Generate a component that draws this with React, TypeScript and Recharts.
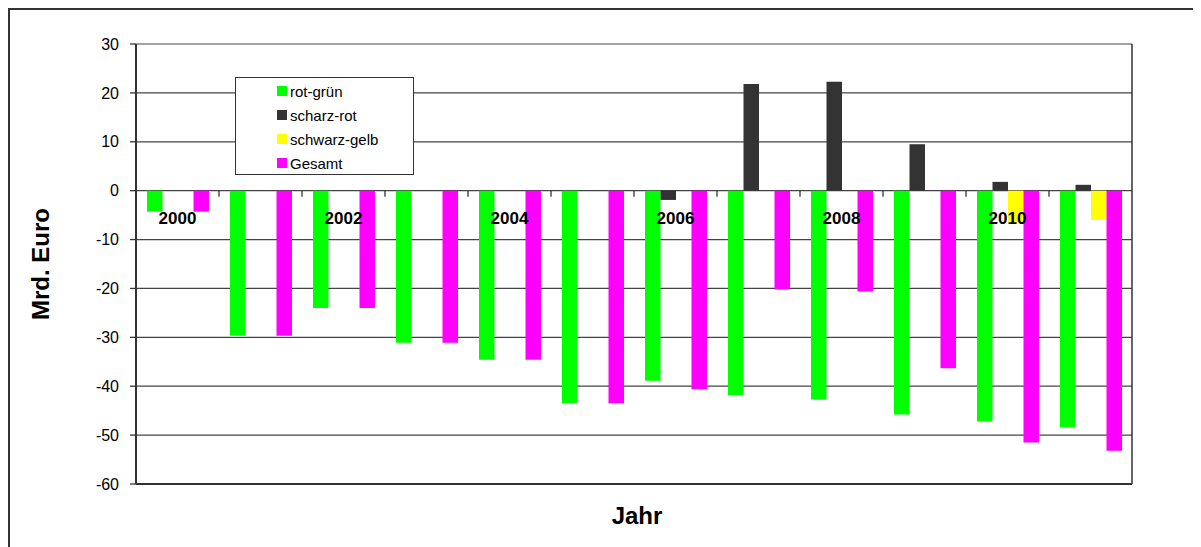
import React from 'react'
import { BarChart, Bar, XAxis, YAxis, CartesianGrid, Legend } from 'recharts'

// values (Mrd. Euro)
const years = ['2000', '2001', '2002', '2003', '2004', '2005', '2006', '2007', '2008', '2009', '2010', '2011']
const rotGruen = [-4.3, -29.7, -24.0, -31.1, -34.6, -43.5, -38.9, -41.8, -42.7, -45.8, -47.2, -48.4]
const scharzRot = [null, null, null, null, null, null, -1.9, 21.8, 22.3, 9.5, 1.8, 1.2]
const schwarzGelb = [null, null, null, null, null, null, null, null, null, null, -6.5, -6.0]
const gesamt = [-4.3, -29.7, -24.0, -31.1, -34.6, -43.5, -40.6, -20.2, -20.6, -36.3, -51.5, -53.2]
const yTicks = [-60, -50, -40, -30, -20, -10, 0, 10, 20, 30]

const series = [
  { key: 'rotGruen', name: 'rot-grün', color: '#00ff00' },
  { key: 'scharzRot', name: 'scharz-rot', color: '#333333' },
  { key: 'schwarzGelb', name: 'schwarz-gelb', color: '#ffff00' },
  { key: 'gesamt', name: 'Gesamt', color: '#ff00ff' },
]

const chartData = years.map((year, i) => ({
  year,
  rotGruen: rotGruen[i],
  scharzRot: scharzRot[i],
  schwarzGelb: schwarzGelb[i],
  gesamt: gesamt[i],
}))

const FONT = '"Liberation Sans", Arial, sans-serif'
const CHART_W = 1193
const CHART_H = 539
const MARGIN = { top: 36, right: 0, bottom: 0, left: 0 }
const Y_AXIS_W = 128
const RIGHT_AXIS_W = 69
const X_AXIS_H = 63
const PLOT_W = CHART_W - MARGIN.left - MARGIN.right - Y_AXIS_W - RIGHT_AXIS_W
const PLOT_H = CHART_H - MARGIN.top - MARGIN.bottom - X_AXIS_H
const Y_MIN = -60
const Y_MAX = 30
const BAND = PLOT_W / years.length

// category labels sit under the zero line, like the Excel original
const YearTick = (props: any) => {
  const { x, y, payload, index } = props
  const zeroY = y - (PLOT_H * (0 - Y_MIN)) / (Y_MAX - Y_MIN)
  return (
    <g>
      {index < years.length - 1 && (
        <line x1={x + BAND / 2} x2={x + BAND / 2} y1={zeroY} y2={zeroY + 6} stroke="#333" strokeWidth={1.3} />
      )}
      {index % 2 === 0 && (
        <text x={x} y={zeroY + 28} textAnchor="middle" dominantBaseline="central"
          fontSize={17} fontWeight="bold" fill="#000" fontFamily={FONT}>
          {payload.value}
        </text>
      )}
    </g>
  )
}

const LegendBox = () => (
  <div style={{
    width: 177, height: 95, background: '#fff', border: '1px solid #333',
    fontFamily: FONT, fontSize: 15, color: '#000', paddingTop: 1, boxSizing: 'content-box',
  }}>
    {series.map((s) => (
      <div key={s.key} style={{ display: 'flex', alignItems: 'center', height: 24, paddingLeft: 41 }}>
        <span style={{ width: 10, height: 10, background: s.color, marginRight: 3, display: 'inline-block' }} />
        <span>{s.name}</span>
      </div>
    ))}
  </div>
)

const App: React.FC = () => {
  return (
    <div style={{ position: 'relative', width: CHART_W, height: CHART_H, borderTop: '2px solid #333', borderLeft: '2px solid #333', boxSizing: 'border-box' }}>
      <div style={{ position: 'absolute', left: -2, top: -2 }}>
        <BarChart
          width={CHART_W}
          height={CHART_H}
          data={chartData}
          margin={MARGIN}
          barGap={0}
          style={{ fontFamily: FONT }}
        >
          <CartesianGrid horizontal vertical={false} stroke="#444" strokeWidth={1.2} />
          {series.map((s) => (
            <Bar key={s.key} dataKey={s.key} name={s.name} fill={s.color} barSize={15.5} isAnimationActive={false} />
          ))}
          <XAxis
            dataKey="year"
            height={X_AXIS_H}
            interval={0}
            tickSize={0}
            tickMargin={0}
            tickLine={false}
            stroke="#333"
            axisLine={{ stroke: '#333', strokeWidth: 2 }}
            tick={YearTick}
            label={(p: any) => (
              <text x={p.viewBox.x + p.viewBox.width / 2 + 3} y={p.viewBox.y + 31} textAnchor="middle"
                dominantBaseline="central" fontSize={24} fontWeight="bold" fill="#000" fontFamily={FONT}>
                Jahr
              </text>
            )}
          />
          <YAxis
            width={Y_AXIS_W}
            domain={[Y_MIN, Y_MAX]}
            ticks={yTicks}
            interval={0}
            allowDataOverflow
            tickSize={6}
            tickMargin={11}
            stroke="#333"
            tickLine={{ stroke: '#333', strokeWidth: 1.3 }}
            axisLine={{ stroke: '#333', strokeWidth: 2 }}
            tick={{ fill: '#000', fontSize: 16, fontFamily: FONT }}
            label={(p: any) => (
              <text x={32} y={p.viewBox.y + p.viewBox.height / 2} textAnchor="middle" dominantBaseline="central"
                transform={`rotate(-90, 32, ${p.viewBox.y + p.viewBox.height / 2})`}
                fontSize={24} fontWeight="bold" fill="#000" fontFamily={FONT}>
                Mrd. Euro
              </text>
            )}
          />
          {/* right-hand frame of the plot area */}
          <YAxis
            yAxisId="frame"
            orientation="right"
            width={RIGHT_AXIS_W}
            domain={[Y_MIN, Y_MAX]}
            tick={false}
            tickLine={false}
            stroke="#333"
            axisLine={{ stroke: '#333', strokeWidth: 1.5 }}
          />
          <Legend
            layout="vertical"
            align="center"
            verticalAlign="middle"
            content={<LegendBox />}
            wrapperStyle={{ left: 227, top: 69, width: 179, height: 97 }}
          />
        </BarChart>
      </div>
    </div>
  )
}

export default App
